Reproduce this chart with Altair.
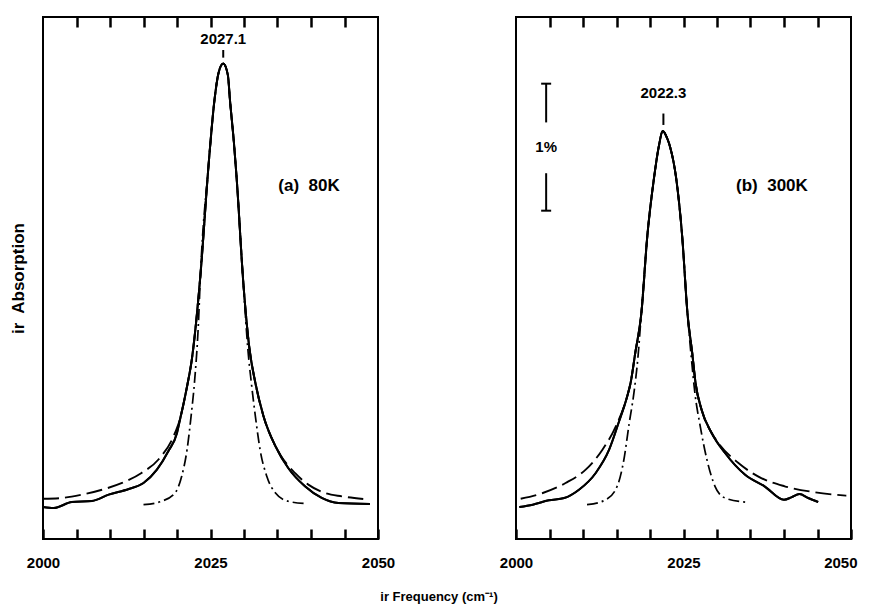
import altair as alt
import pandas as pd

FONT = "Liberation Sans"
Y_MAX = 4.11          # plot height in % absorption units
W, H = 335, 522

label_ticks = [2000, 2025, 2050]
minor_ticks = [2005, 2010, 2015, 2020, 2025, 2030, 2035, 2040, 2045]

# ---------------- Panel (a) 80 K ----------------
a_meas_f = [2000.0, 2001.6, 2004.3, 2007.3, 2009.8, 2012.8, 2015.0, 2017.0, 2018.7, 2020.0,
            2020.5, 2021.0, 2021.6, 2022.2, 2023.5, 2024.7, 2025.6, 2026.2, 2026.9, 2027.6,
            2027.9, 2028.5, 2028.9, 2029.9, 2030.8, 2031.7, 2032.9, 2034.7, 2036.6, 2039.1,
            2041.6, 2044.1, 2048.8]
a_meas_v = [0.252, 0.244, 0.291, 0.299, 0.349, 0.394, 0.441, 0.546, 0.691, 0.835,
            0.953, 1.071, 1.228, 1.409, 2.079, 2.937, 3.459, 3.670, 3.743, 3.650,
            3.459, 3.118, 2.843, 2.016, 1.504, 1.228, 0.969, 0.730, 0.559, 0.415,
            0.323, 0.283, 0.276]

a_lor_f = [2000.0, 2002.8, 2005.8, 2008.8, 2011.8, 2014.7, 2017.2, 2019.7, 2020.5, 2021.0,
           2021.6, 2022.2, 2023.5, 2024.7, 2025.6, 2026.2, 2026.9, 2027.6, 2027.9, 2028.5,
           2028.9, 2029.9, 2030.8, 2031.7, 2032.9, 2034.7, 2035.4, 2037.6, 2039.6, 2042.1,
           2044.6, 2047.8]
a_lor_v = [0.317, 0.323, 0.349, 0.388, 0.441, 0.520, 0.624, 0.835, 0.953, 1.071,
           1.228, 1.409, 2.079, 2.937, 3.459, 3.670, 3.743, 3.650, 3.459, 3.118,
           2.843, 2.016, 1.504, 1.228, 0.969, 0.730, 0.664, 0.520, 0.428, 0.362,
           0.336, 0.315]

a_gau_f = [2015.0, 2017.7, 2019.7, 2020.7, 2021.5, 2022.1, 2022.6, 2023.2, 2023.5, 2024.7,
           2025.6, 2026.2, 2026.9, 2027.6, 2027.9, 2028.5, 2028.9, 2029.9, 2030.6, 2031.1,
           2031.7, 2032.4, 2033.4, 2034.7, 2036.6, 2039.4]
a_gau_v = [0.270, 0.297, 0.362, 0.494, 0.703, 0.966, 1.228, 1.700, 2.079, 2.937,
           3.459, 3.670, 3.743, 3.650, 3.459, 3.118, 2.843, 2.016, 1.480, 1.228,
           0.966, 0.703, 0.494, 0.362, 0.297, 0.278]

# ---------------- Panel (b) 300 K ----------------
b_meas_f = [2000.5, 2002.5, 2004.9, 2007.2, 2009.4, 2011.9, 2013.9, 2015.3, 2016.6, 2017.1,
            2017.8, 2018.7, 2019.6, 2020.6, 2021.3, 2021.9, 2022.6, 2023.0, 2023.9, 2024.8,
            2025.6, 2026.3, 2026.8, 2027.7, 2029.2, 2031.2, 2034.2, 2037.1, 2040.0, 2041.1,
            2042.3, 2043.6, 2045.1]
b_meas_v = [0.252, 0.270, 0.305, 0.323, 0.388, 0.520, 0.703, 0.913, 1.124, 1.228,
            1.465, 1.772, 2.386, 2.843, 3.087, 3.213, 3.150, 3.087, 2.843, 2.386,
            1.772, 1.465, 1.228, 1.018, 0.835, 0.677, 0.506, 0.415, 0.309, 0.328,
            0.354, 0.323, 0.291]

b_lor_f = [2000.7, 2004.0, 2007.4, 2010.4, 2012.9, 2014.9, 2016.6, 2017.1, 2017.8, 2018.7,
           2019.6, 2020.6, 2021.3, 2021.9, 2022.6, 2023.0, 2023.9, 2024.8, 2025.6, 2026.3,
           2026.8, 2027.7, 2029.2, 2030.2, 2033.2, 2036.6, 2040.1, 2044.6, 2049.3]
b_lor_v = [0.317, 0.362, 0.441, 0.546, 0.703, 0.887, 1.124, 1.228, 1.465, 1.772,
           2.386, 2.843, 3.087, 3.213, 3.150, 3.087, 2.843, 2.386, 1.772, 1.465,
           1.228, 1.018, 0.835, 0.756, 0.598, 0.480, 0.415, 0.368, 0.341]

b_gau_f = [2010.6, 2013.4, 2015.1, 2016.1, 2016.9, 2017.6, 2018.2, 2018.7, 2019.6, 2020.6,
           2021.3, 2021.9, 2022.6, 2023.0, 2023.9, 2024.8, 2025.6, 2026.2, 2026.7, 2027.5,
           2028.5, 2029.7, 2031.2, 2034.2]
b_gau_v = [0.270, 0.309, 0.415, 0.624, 0.913, 1.150, 1.430, 1.772, 2.386, 2.843,
           3.087, 3.213, 3.150, 3.087, 2.843, 2.386, 1.772, 1.410, 1.150, 0.887,
           0.624, 0.415, 0.323, 0.291]

# peak annotations
peak_f = [2026.9, 2022.0]
peak_text = ["2027.1", "2022.3"]
peak_label_v = [3.94, 3.51]
peak_mark_lo = [3.79, 3.26]
peak_mark_hi = [3.85, 3.35]

# condition labels
cond_text = ["(a)\u00a0 80K", "(b)\u00a0 300K"]
cond_f = [2039.7, 2038.2]
cond_v = [2.78, 2.78]

# 1 % scale bar (panel b)
bar_f = 2004.5
bar_bottom, bar_top = 2.585, 3.585
bar_gap_lo, bar_gap_hi = 2.88, 3.28
bar_text = "1%"

XS = alt.Scale(domain=[2000, 2050], nice=False, zero=False)
YS = alt.Scale(domain=[0, Y_MAX], nice=False, zero=False)
all_ticks = sorted(label_ticks + minor_ticks)
label_test = " || ".join(f"datum.value == {v}" for v in label_ticks)


def x_enc(kind, last_right=False):
    if kind == "main":
        extra = {}
        if last_right:
            extra = dict(labelAlign=alt.expr("datum.value >= 2050 ? 'right' : 'center'"),
                         labelOffset=alt.expr("datum.value >= 2050 ? 6 : 0"))
        ax = alt.Axis(values=all_ticks, orient="bottom", offset=-10, ticks=True, tickSize=10,
                      tickWidth=2.5, tickColor="black", tickOpacity=1, domain=False, grid=False,
                      labelExpr=f"({label_test}) ? datum.label : ''",
                      labelFontSize=15, labelFontWeight="bold", labelFont=FONT,
                      labelColor="black", labelPadding=16, labelFlush=False, format="d",
                      **extra)
    elif kind == "top":
        ax = alt.Axis(values=minor_ticks, orient="top", offset=-10, ticks=True, tickSize=10,
                      tickWidth=2.5, tickColor="black", tickOpacity=1, domain=False,
                      grid=False, labels=False)
    else:
        ax = None
    return alt.X("f:Q", scale=XS, title=None, axis=ax)


def y_enc(field, show_title):
    if show_title:
        ax = alt.Axis(labels=False, ticks=False, domain=False, grid=False,
                      title="ir\u00a0 Absorption", titleFontSize=17, titleFontWeight="bold",
                      titleFont=FONT, titleColor="black", titlePadding=16)
        return alt.Y(f"{field}:Q", scale=YS, axis=ax, title="ir\u00a0 Absorption")
    return alt.Y(f"{field}:Q", scale=YS, axis=None, title=None)


def panel(i, meas_f, meas_v, lor_f, lor_v, gau_f, gau_v, show_title, with_bar):
    meas = pd.DataFrame({"f": meas_f, "v": meas_v})
    lor = pd.DataFrame({"f": lor_f, "v": lor_v})
    gau = pd.DataFrame({"f": gau_f, "v": gau_v})
    peak = pd.DataFrame({"f": [peak_f[i]], "v": [peak_mark_lo[i]], "v2": [peak_mark_hi[i]],
                         "lv": [peak_label_v[i]], "t": [peak_text[i]]})
    cond = pd.DataFrame({"f": [cond_f[i]], "v": [cond_v[i]], "t": [cond_text[i]]})
    Y = lambda fld: y_enc(fld, show_title)
    N = x_enc("none")

    layers = [
        alt.Chart(meas).mark_line(color="black", strokeWidth=2, interpolate="monotone").encode(
            x=x_enc("main", with_bar), y=Y("v")),
        alt.Chart(gau).mark_line(color="black", strokeWidth=1.7, strokeDash=[11, 4, 2, 4],
                                 interpolate="monotone").encode(x=x_enc("top"), y=Y("v")),
        alt.Chart(lor).mark_line(color="black", strokeWidth=1.9, strokeDash=[16, 6],
                                 interpolate="monotone").encode(x=N, y=Y("v")),
        alt.Chart(meas).mark_line(color="black", strokeWidth=2,
                                  interpolate="monotone").encode(x=N, y=Y("v")),
        alt.Chart(peak).mark_rule(color="black", strokeWidth=2).encode(
            x=N, y=Y("v"), y2="v2:Q"),
        alt.Chart(peak).mark_text(fontSize=15, fontWeight="bold", font=FONT, color="black",
                                  baseline="middle").encode(x=N, y=Y("lv"), text="t:N"),
        alt.Chart(cond).mark_text(fontSize=17, fontWeight="bold", font=FONT, color="black",
                                  baseline="middle").encode(x=N, y=Y("v"), text="t:N"),
    ]
    if with_bar:
        segs = pd.DataFrame({"f": [bar_f, bar_f], "v": [bar_bottom, bar_gap_hi],
                             "v2": [bar_gap_lo, bar_top]})
        caps = pd.DataFrame({"f": [bar_f, bar_f], "v": [bar_bottom, bar_top]})
        btxt = pd.DataFrame({"f": [bar_f], "v": [(bar_bottom + bar_top) / 2], "t": [bar_text]})
        layers += [
            alt.Chart(segs).mark_rule(color="black", strokeWidth=2).encode(
                x=N, y=Y("v"), y2="v2:Q"),
            alt.Chart(caps).mark_tick(color="black", orient="horizontal", size=10,
                                      thickness=2, opacity=1).encode(x=N, y=Y("v")),
            alt.Chart(btxt).mark_text(fontSize=15, fontWeight="bold", font=FONT, color="black",
                                      baseline="middle").encode(x=N, y=Y("v"), text="t:N"),
        ]
    return alt.layer(*layers).resolve_axis(x="independent").properties(width=W, height=H)


pa = panel(0, a_meas_f, a_meas_v, a_lor_f, a_lor_v, a_gau_f, a_gau_v, True, False)
pb = panel(1, b_meas_f, b_meas_v, b_lor_f, b_lor_v, b_gau_f, b_gau_v, False, True)

chart = alt.hconcat(pa, pb, spacing=138, bounds="flush").properties(
    title=alt.TitleParams("ir Frequency (cm\u207b\u00b9)", orient="bottom", anchor="middle",
                          fontSize=13, fontWeight="bold", font=FONT, color="black", offset=20,
                          dx=6),
    padding={"left": 0, "top": 6, "right": 0, "bottom": 0},
).configure(background="white").configure_view(stroke="black", strokeWidth=2)

chart.save("out.html", embed_options={"renderer": "svg", "actions": False})
